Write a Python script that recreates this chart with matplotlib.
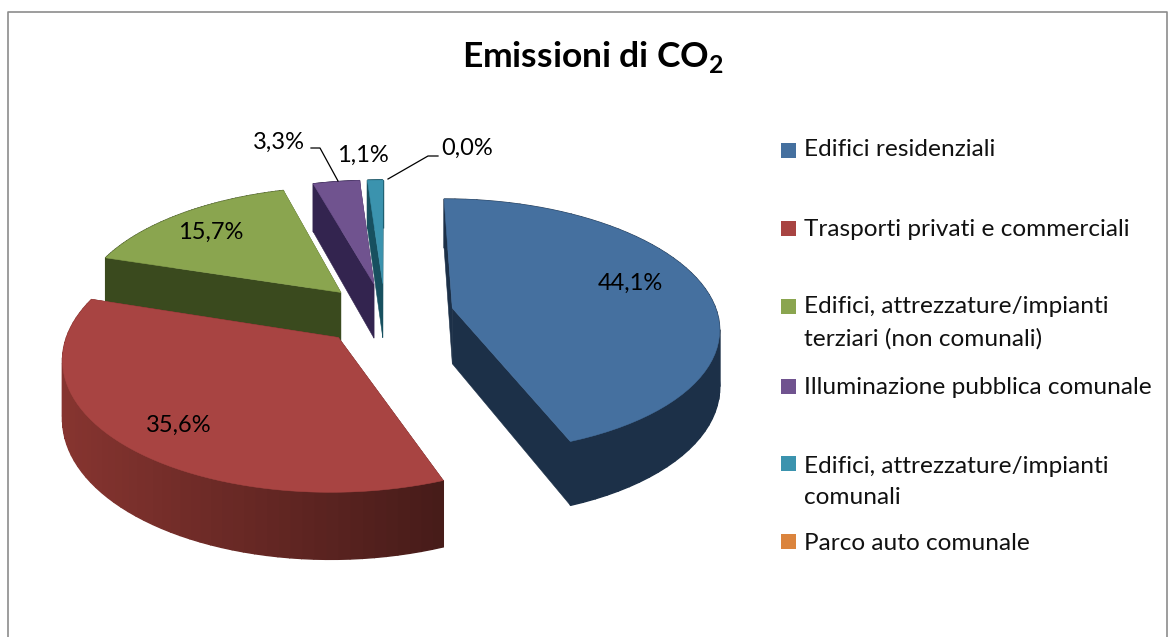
import matplotlib
matplotlib.use('Agg')
import numpy as np
import matplotlib.pyplot as plt
from matplotlib.patches import Rectangle

plt.rcParams['font.family'] = ['Lato', 'DejaVu Sans']
plt.rcParams['mathtext.fontset'] = 'custom'
plt.rcParams['mathtext.bf'] = 'Lato:bold'
plt.rcParams['mathtext.rm'] = 'Lato:bold'

# data
CATEGORIES = ['Edifici residenziali', 'Trasporti privati e commerciali',
              'Edifici, attrezzature/impianti\nterziari (non comunali)',
              'Illuminazione pubblica comunale',
              'Edifici, attrezzature/impianti\ncomunali', 'Parco auto comunale']
VALUES = [44.1, 35.6, 15.7, 3.3, 1.1, 0.0]
VALUE_LABELS = ['44,1%', '35,6%', '15,7%', '3,3%', '1,1%', '0,0%']

# styles
COLORS = ['#45709f', '#a84442', '#8aa54f', '#70538f', '#3b93ae', '#db843d']
WALL_COLORS = ['#1c3048', '#5a2320', '#3a4a1e', '#33244f', '#17505f', '#6b3f1c']
EXPLODE = [0.26, 0.25, 0.245, 0.25, 0.25, 0.25]
DRAW_ORDER = [5, 4, 3, 2, 0, 1]
LABEL_POS = [(630, 283), (179, 425), (211, 232), (279, 142), (363, 155), (467, 148)]
LEGEND_Y = [150, 229, 323, 387, 482, 543]
SWATCH_Y = [150, 228, 306, 386, 463, 541]

CX, CY, R, K, P, DEPTH = 385, 314, 265, 0.475, 0.14, 56


def project(u, v):
    s = 1 / (1 + P * v)
    return CX + R * u * s, CY - R * K * v * s, DEPTH * s


def shade(hex_col, f):
    rgb = np.array(matplotlib.colors.to_rgb(hex_col))
    return tuple(np.clip(rgb * f, 0, 1))


def draw_slice(ax, start, end, explode, color, wall):
    mid = (start + end) / 2
    ou, ov = explode * np.sin(mid), explode * np.cos(mid)
    th = np.linspace(start, end, 60)
    u = ou + np.sin(th)
    v = ov + np.cos(th)
    x, y, d = project(u, v)
    ax_, ay_, ad_ = project(np.array([ou]), np.array([ov]))
    # radial walls
    for k in (0, -1):
        ax.fill([ax_[0], x[k], x[k], ax_[0]],
                [ay_[0], y[k], y[k] + d[k], ay_[0] + ad_[0]], color=wall, lw=0.4)
    # outer wall in strips so that it can be shaded along the arc
    for i in range(len(th) - 1):
        xs = [x[i], x[i + 1], x[i + 1], x[i]]
        ys = [y[i], y[i + 1], y[i + 1] + d[i + 1], y[i] + d[i]]
        f = 1.0
        if color == COLORS[1]:
            f = 1.5 - 0.72 * np.clip((x[i] - 60) / 390, 0, 1)
        ax.fill(xs, ys, color=shade(wall, f), lw=1.0)
    # top
    ax.fill(np.r_[ax_, x], np.r_[ay_, y], color=color, lw=0.4)


fig = plt.figure(figsize=(11.69, 6.37), dpi=100)
ax = fig.add_axes([0, 0, 1, 1])
ax.set_xlim(0, 1169)
ax.set_ylim(637, 0)
ax.axis('off')

# chart frame, cut at the bottom
ax.plot([8, 8, 1167, 1167], [637, 12, 12, 637], color='#8c8c8c', lw=1.2)

edges = 2 * np.pi * np.r_[0, np.cumsum(VALUES)] / np.sum(VALUES)
for i in DRAW_ORDER:
    if VALUES[i] > 0:
        draw_slice(ax, edges[i], edges[i + 1], EXPLODE[i], COLORS[i], WALL_COLORS[i])

for lab, (lx, ly) in zip(VALUE_LABELS, LABEL_POS):
    ax.text(lx, ly, lab, fontsize=17, ha='center', va='center', color='black')

# leader lines
ax.plot([311, 320, 338], [148, 148, 181], color='black', lw=0.9)
ax.plot([388, 428, 438], [179, 156, 156], color='black', lw=0.9)

ax.text(593, 57, r'Emissioni di CO$_{\mathbf{2}}$', fontsize=25.5, fontweight='bold',
        ha='center', va='center', color='black')

for name, col, ty, sy in zip(CATEGORIES, COLORS, LEGEND_Y, SWATCH_Y):
    ax.add_patch(Rectangle((781, sy - 7.5), 15, 15, color=col, lw=0))
    ax.text(804, ty, name, fontsize=17.6, ha='left', va='center', color='#111111',
            linespacing=1.6)

fig.savefig('out.png', dpi=100)
